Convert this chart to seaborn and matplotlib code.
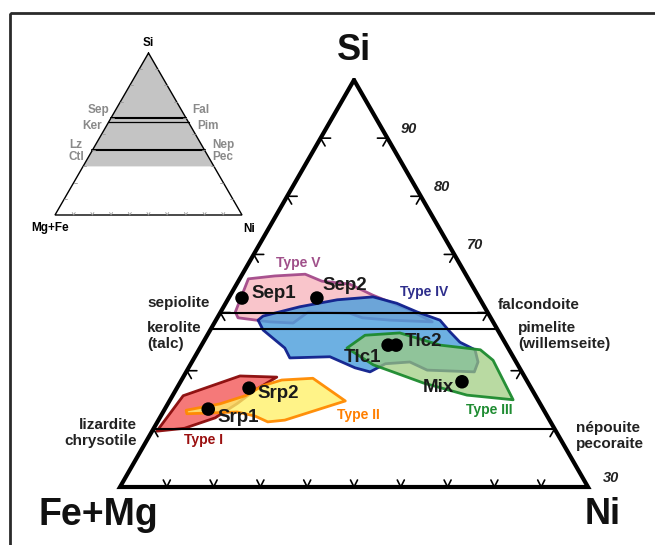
import numpy as np
import pandas as pd
import matplotlib
matplotlib.use("Agg")
import matplotlib.pyplot as plt
import seaborn as sns
from matplotlib.patches import Polygon, Rectangle

sns.set_theme(style="white")
plt.rcParams["font.family"] = ["Liberation Sans", "DejaVu Sans"]

# ---------------------------------------------------------------------------
# Compositions in atomic % : Si and Ni (Fe+Mg is the remainder to 100)
# ---------------------------------------------------------------------------
type_v_si = [65.8, 66.3, 66.6, 65.4, 64.9, 63.0, 60.4, 58.4, 58.7, 59.1, 59.9, 60.1, 58.2, 58.4, 59.1, 60.1]
type_v_ni = [1.3, 5.0, 9.4, 12.5, 16.9, 21.3, 28.2, 32.5, 26.0, 21.7, 19.4, 13.1, 11.8, 8.2, 3.1, 2.2]

type_iv_si = [58.7, 59.4, 61.0, 62.2, 62.7, 61.6, 60.1, 58.7, 56.7, 54.9, 53.6, 51.5, 49.8, 50.1, 51.5,
              51.2, 49.8, 50.5, 52.4, 52.2, 53.9, 57.0]
type_iv_ni = [6.3, 6.7, 11.4, 16.4, 21.5, 25.6, 29.4, 33.5, 36.0, 38.4, 41.3, 42.8, 43.1, 35.9, 32.6,
              29.1, 27.5, 24.9, 20.2, 14.3, 12.7, 7.9]

type_iii_si = [53.9, 56.1, 56.5, 54.4, 53.6, 51.8, 45.0, 45.8, 47.9, 49.8, 51.0]
type_iii_ni = [22.0, 23.6, 28.6, 35.7, 42.1, 44.9, 51.3, 44.0, 36.4, 30.9, 27.4]

type_i_si = [39.6, 45.7, 49.1, 48.9, 46.7, 44.4, 41.9, 40.1]
type_i_ni = [0.7, 1.6, 8.4, 14.0, 11.9, 10.4, 8.3, 4.6]

type_ii_si = [43.2, 44.3, 45.7, 47.4, 48.4, 48.7, 44.8, 41.5, 41.2, 42.2, 42.9, 42.6]
type_ii_ni = [3.3, 7.8, 10.9, 12.6, 15.0, 19.5, 26.3, 18.9, 16.5, 14.1, 11.1, 3.7]

sample_names = ["Sep1", "Sep2", "Tlc1", "Tlc2", "Mix", "Srp1", "Srp2"]
sample_si = [62.5, 62.5, 54.4, 54.4, 48.1, 43.4, 47.0]
sample_ni = [2.0, 13.2, 27.9, 29.1, 42.1, 6.5, 10.8]

# Ideal Si fraction of the Mg/Ni phyllosilicate series
mineral_si = [60.0, 400.0 / 7.0, 40.0]
mineral_lw = [1.5, 1.5, 1.5]
left_minerals = ["sepiolite", "kerolite\n(talc)", "lizardite\nchrysotile"]
right_minerals = ["falcondoite", "pimelite\n(willemseite)", "népouite\npecoraite"]
inset_left = ["Sep", "Ker", "Lz\nCtl"]
inset_right = ["Fal", "Pim", "Nep\nPec"]

si_ticks = [90, 80, 70, 60, 50, 40]
si_tick_labels = ["90", "80", "70"]
si_floor = 30

# ---------------------------------------------------------------------------
# Geometry (figure pixels, y downward)
# ---------------------------------------------------------------------------
M_X0, M_Y0, M_W, M_H = 120.0, 487.0, 468.0, 407.0     # main (Si >= 30) triangle
I_X0, I_Y0, I_W, I_H = 55.0, 215.0, 187.0, 162.0      # inset, full triangle


def main_xy(si, ni):
    si = np.asarray(si, float)
    ni = np.asarray(ni, float)
    s = (si - si_floor) / (100.0 - si_floor)
    n = ni / (100.0 - si_floor)
    return M_X0 + M_W * (n + s / 2.0), M_Y0 - M_H * s


def inset_xy(si, ni):
    s = np.asarray(si, float) / 100.0
    n = np.asarray(ni, float) / 100.0
    return I_X0 + I_W * (n + s / 2.0), I_Y0 - I_H * s


fig = plt.figure(figsize=(6.55, 5.45), dpi=100)
ax = fig.add_axes([0, 0, 1, 1])

# outer frame
ax.add_patch(Rectangle((10, 13), 700, 600, fill=False, lw=2.0, ec="#2a2a2a", zorder=1))

# ---------------------------------------------------------------------------
# Inset: full ternary with shaded Si >= 30 field
# ---------------------------------------------------------------------------
gx, gy = inset_xy([100, si_floor, si_floor], [0, 0, 100 - si_floor])
ax.add_patch(Polygon(np.column_stack([gx, gy]), closed=True, fc="#c4c4c4", ec="none", zorder=2))
tx, ty = inset_xy([100, 0, 0, 100], [0, 0, 100, 0])
ax.plot(tx, ty, color="black", lw=1.0, zorder=3, solid_joinstyle="miter")
for si, lw in zip(mineral_si, [1.5, 0.9, 1.5]):
    lx, ly = inset_xy([si, si], [0, 100 - si])
    ax.plot(lx, ly, color="black", lw=lw, zorder=3)
# inset ticks
for k in range(1, 10):
    bx, by = inset_xy(0, k * 10)
    ax.plot([bx - 1.5, bx, bx + 1.5], [by - 2.5, by, by - 2.5], color="#999999", lw=0.6, zorder=3)
    lx, ly = inset_xy(k * 10, 0)
    ax.plot([lx + 3, lx], [ly, ly], color="#999999", lw=0.6, zorder=3)
    rx, ry = inset_xy(k * 10, 100 - k * 10)
    ax.plot([rx - 3, rx], [ry, ry], color="#999999", lw=0.6, zorder=3)
inset_pos_left = [(98, 110), (92, 126), (76, 151)]
inset_pos_right = [(201, 110), (208, 126), (223, 151)]
for name, (x, y) in zip(inset_left, inset_pos_left):
    ax.text(x, y, name, ha="center", va="center", fontsize=8.5, color="#8a8a8a",
            fontweight="bold", linespacing=1.0)
for name, (x, y) in zip(inset_right, inset_pos_right):
    ax.text(x, y, name, ha="center", va="center", fontsize=8.5, color="#8a8a8a",
            fontweight="bold", linespacing=1.0)
ax.text(148, 43, "Si", ha="center", va="center", fontsize=8.5, fontweight="bold", color="black")
ax.text(50, 228, "Mg+Fe", ha="center", va="center", fontsize=8.5, fontweight="bold", color="black")
ax.text(249, 229, "Ni", ha="center", va="center", fontsize=8.5, fontweight="bold", color="black")

# ---------------------------------------------------------------------------
# Main diagram
# ---------------------------------------------------------------------------
fields = [
    ("Type V", type_v_si, type_v_ni, "#f9bfc6", "#a44a8a", 0.9),
    ("Type IV", type_iv_si, type_iv_ni, "#4d9fdc", "#0f1f8c", 0.82),
    ("Type III", type_iii_si, type_iii_ni, "#9fcc7e", "#1c8a2e", 0.72),
    ("Type I", type_i_si, type_i_ni, "#f46a6a", "#8a0a0a", 0.9),
    ("Type II", type_ii_si, type_ii_ni, "#fff06a", "#ff8a00", 0.8),
]
for z, (name, si, ni, fc, ec, a) in enumerate(fields):
    px, py = main_xy(si, ni)
    ax.add_patch(Polygon(np.column_stack([px, py]), closed=True, fc=fc, alpha=a,
                         ec="none", zorder=4 + z))
    ax.add_patch(Polygon(np.column_stack([px, py]), closed=True, fill=False, ec=ec,
                         lw=2.0, alpha=0.95, zorder=4 + z, joinstyle="round"))

# mineral reference lines
for si, lw in zip(mineral_si, mineral_lw):
    lx, ly = main_xy([si, si], [0, 100 - si])
    ax.plot(lx, ly, color="black", lw=lw, zorder=10)

# triangle outline
ox, oy = main_xy([100, si_floor, si_floor, 100], [0, 0, 100 - si_floor, 0])
ax.plot(ox, oy, color="black", lw=3.0, zorder=11, solid_joinstyle="miter")

# edge ticks
L = 10.0
c60, s60 = 0.5 * L, 0.866 * L
for si in si_ticks:
    lx, ly = main_xy(si, 0)
    ax.plot([lx + L, lx, lx + c60 * 0.9], [ly, ly, ly + s60 * 0.9], color="black", lw=1.2, zorder=11)
    rx, ry = main_xy(si, 100 - si)
    ax.plot([rx - L, rx, rx - c60 * 0.9], [ry, ry, ry + s60 * 0.9], color="black", lw=1.2, zorder=11)
for k in range(1, 10):
    bx, by = main_xy(si_floor, (100 - si_floor) * k / 10)
    ax.plot([bx - 3.5, bx, bx + 3.5], [by - 7, by, by - 7], color="black", lw=1.2, zorder=11)

for lab in si_tick_labels:
    rx, ry = main_xy(float(lab), 100 - float(lab))
    ax.text(rx + 21, ry - 9, lab, ha="center", va="center", fontsize=10.5,
            fontweight="bold", fontstyle="italic", color="#222222")
bx, by = main_xy(si_floor, 100 - si_floor)
ax.text(bx + 23, by - 9, str(si_floor), ha="center", va="center", fontsize=10.5,
        fontweight="bold", fontstyle="italic", color="#222222")

# sample points
samples = pd.DataFrame({"name": sample_names, "si": sample_si, "ni": sample_ni})
samples["x"], samples["y"] = main_xy(samples["si"], samples["ni"])
sns.scatterplot(data=samples, x="x", y="y", color="black", s=95, edgecolor="none",
                ax=ax, zorder=12, legend=False)

label_pos = {
    "Sep1": (251, 294, "left"), "Sep2": (322, 286, "left"), "Tlc1": (363, 358, "center"),
    "Tlc2": (405, 341, "left"), "Mix": (454, 388, "right"), "Srp1": (217, 417, "left"),
    "Srp2": (257, 393, "left"),
}
for name in sample_names:
    x, y, ha = label_pos[name]
    ax.text(x, y, name, ha=ha, va="center", fontsize=13.5, fontweight="bold",
            color="#1a1a1a", zorder=13)

type_pos = {"Type V": (298, 263, "#a0508a"), "Type IV": (424, 292, "#2e2e8c"),
            "Type III": (489, 410, "#1f8c32"), "Type II": (358, 415, "#ff7f00"),
            "Type I": (203, 440, "#9b1010")}
for name, (x, y, c) in type_pos.items():
    ax.text(x, y, name, ha="center", va="center", fontsize=10, fontweight="bold", color=c, zorder=13)

left_pos = [(147, 303, "left"), (147, 336, "left"), (137, 433, "right")]
right_pos = [(498, 305, "left"), (518, 336, "left"), (576, 436, "left")]
for name, (x, y, ha) in zip(left_minerals, left_pos):
    ax.text(x, y, name, ha=ha, va="center", fontsize=11, fontweight="bold", color="#222222",
            linespacing=1.1, multialignment=ha)
for name, (x, y, ha) in zip(right_minerals, right_pos):
    ax.text(x, y, name, ha=ha, va="center", fontsize=11, fontweight="bold", color="#222222",
            linespacing=1.1, multialignment=ha)

ax.text(354, 51, "Si", ha="center", va="center", fontsize=26, fontweight="bold", color="#111111")
ax.text(98, 515, "Fe+Mg", ha="center", va="center", fontsize=27, fontweight="bold", color="#111111")
ax.text(603, 515, "Ni", ha="center", va="center", fontsize=26, fontweight="bold", color="#111111")

ax.set_xlim(0, 655)
ax.set_ylim(545, 0)
ax.axis("off")

fig.savefig("out.png", dpi=100)
